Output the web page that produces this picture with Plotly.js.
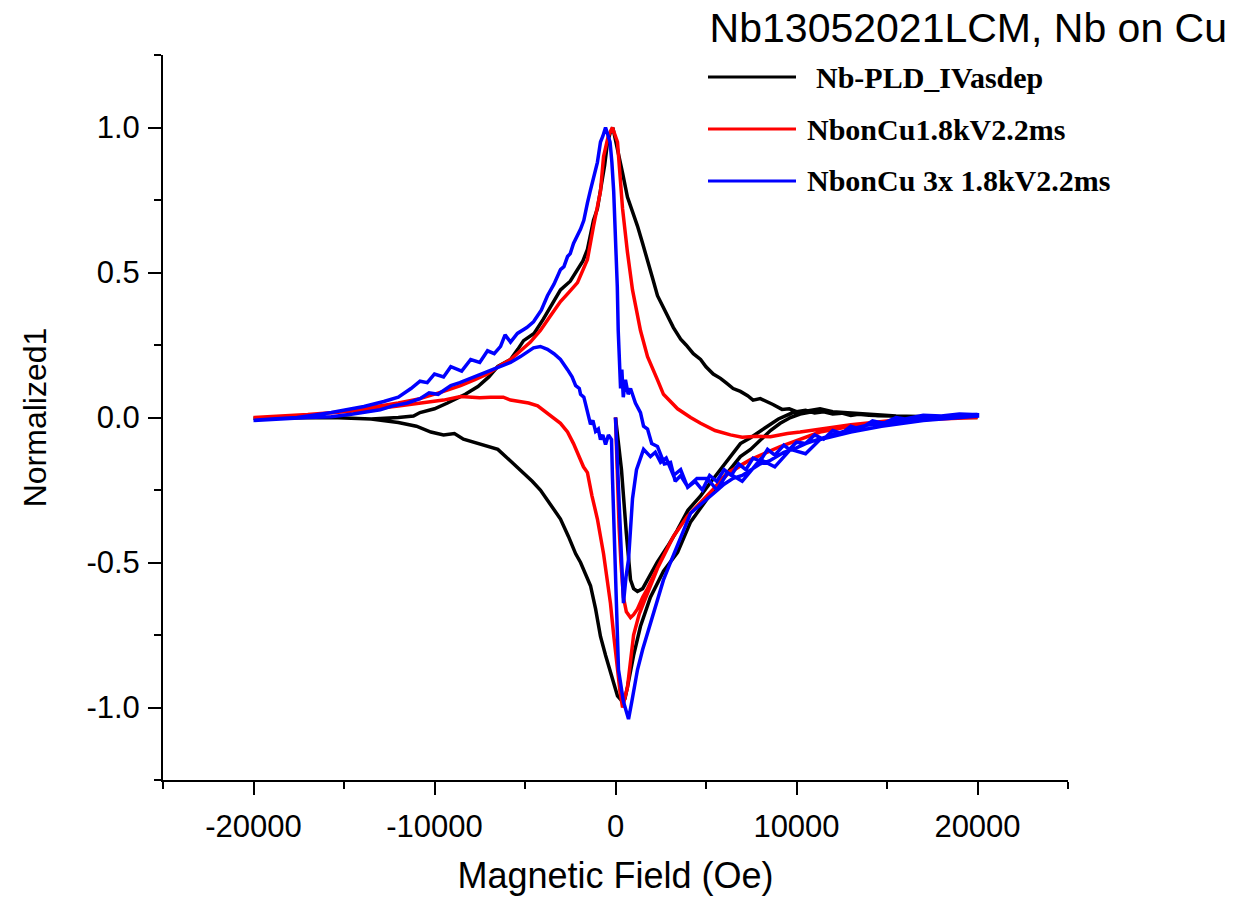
<!DOCTYPE html>
<html>
<head>
<meta charset="utf-8">
<script src="https://cdn.plot.ly/plotly-3.0.1.min.js"></script>
<style>
  html, body { margin: 0; padding: 0; background: #fff; }
  #chart { width: 1235px; height: 897px; }
</style>
</head>
<body>
<div id="chart"></div>
<script>
// ---------- DATA (Magnetic Field in Oe, normalized moment) ----------
const seriesNames = [" Nb-PLD_IVasdep", "NbonCu1.8kV2.2ms", "NbonCu 3x 1.8kV2.2ms"];
const seriesColors = ["#000000", "#ff0000", "#0000ff"];

// Black: Nb-PLD_IVasdep
const blackVirginH = [0, 120, 330, 600, 830, 1000, 1215, 1500, 1770, 2300, 2870, 3400, 4000, 4700, 5300, 5800, 6300, 6900, 7460, 8000, 8400, 9000, 9800, 10500, 11300, 12000, 13000, 14000, 15500, 17500, 20000];
const blackVirginM = [0, -0.07, -0.18, -0.40, -0.56, -0.59, -0.60, -0.59, -0.56, -0.50, -0.445, -0.39, -0.32, -0.27, -0.22, -0.18, -0.14, -0.09, -0.07, -0.045, -0.03, -0.005, 0.017, 0.022, 0.03, 0.02, 0.015, 0.008, 0.004, 0.002, 0.0];
const blackDownH = [20000, 18000, 16000, 14500, 13500, 13000, 12500, 12000, 11500, 11000, 10500, 10000, 9600, 9200, 8700, 8300, 8000, 7600, 7300, 6900, 6500, 6100, 5800, 5400, 5000, 4700, 4300, 3900, 3600, 3200, 2870, 2600, 2320, 2050, 1770, 1500, 1215, 940, 660, 400, 110, -50, -150, -300, -440, -600, -830, -1000, -1215, -1400, -1550, -1800, -2100, -2500, -3040, -3500, -3980, -4500, -5080, -5400, -5800, -6500, -7000, -7600, -8300, -9280, -10000, -10800, -11160, -12000, -13500, -15700, -18000, -20000];
const blackDownM = [0.0, 0.002, 0.004, 0.006, 0.012, 0.007, 0.015, 0.012, 0.02, 0.016, 0.025, 0.02, 0.03, 0.028, 0.045, 0.055, 0.065, 0.06, 0.075, 0.09, 0.10, 0.12, 0.135, 0.15, 0.175, 0.20, 0.22, 0.25, 0.27, 0.31, 0.35, 0.38, 0.42, 0.48, 0.545, 0.60, 0.66, 0.71, 0.76, 0.84, 0.92, 0.97, 1.0, 0.98, 0.95, 0.87, 0.78, 0.72, 0.68, 0.62, 0.58, 0.54, 0.51, 0.47, 0.44, 0.39, 0.34, 0.29, 0.265, 0.235, 0.20, 0.176, 0.14, 0.107, 0.08, 0.05, 0.03, 0.017, 0.005, 0.0, -0.005, 0.0, -0.002, -0.003];
const blackUpH = [-20000, -17500, -15700, -13500, -12000, -11000, -10200, -9500, -8900, -8400, -7600, -7000, -6500, -5800, -5080, -4600, -4150, -3600, -3040, -2600, -2200, -1930, -1380, -1100, -830, -550, -280, 110, 390, 520, 660, 1000, 1380, 1930, 2650, 3430, 4150, 4700, 5300, 5800, 6300, 6900, 7460, 8000, 8560, 9100, 9670, 10200, 11300, 12000, 13000, 14000, 15500, 17500, 20000];
const blackUpM = [-0.003, 0.0, 0.0, -0.005, -0.017, -0.03, -0.05, -0.06, -0.055, -0.075, -0.09, -0.10, -0.11, -0.15, -0.19, -0.22, -0.25, -0.30, -0.35, -0.41, -0.47, -0.50, -0.58, -0.66, -0.755, -0.82, -0.88, -0.96, -0.98, -0.97, -0.93, -0.82, -0.72, -0.62, -0.53, -0.465, -0.36, -0.31, -0.26, -0.22, -0.18, -0.135, -0.11, -0.08, -0.045, -0.02, 0.0, 0.012, 0.025, 0.02, 0.015, 0.01, 0.005, 0.002, 0.0];

// Red: NbonCu1.8kV2.2ms
const redVirginH = [0, 100, 200, 300, 440, 600, 830, 1000, 1215, 1500, 1770, 2300, 3200, 3980, 5080, 6200, 7460, 9100, 11300, 13000, 15000, 17500, 20000];
const redVirginM = [0, -0.2, -0.38, -0.5, -0.62, -0.67, -0.69, -0.68, -0.66, -0.62, -0.59, -0.52, -0.41, -0.34, -0.27, -0.195, -0.145, -0.10, -0.05, -0.03, -0.015, -0.005, 0.0];
const redDownH = [20000, 17500, 15000, 13000, 11500, 10200, 9500, 8560, 7800, 7000, 6350, 5500, 4700, 4150, 3430, 2650, 2320, 1770, 1380, 940, 660, 390, 110, -170, -400, -660, -830, -1000, -1215, -1550, -2100, -2600, -3040, -3600, -4150, -4700, -5250, -5800, -6350, -7070, -7800, -8560, -9500, -10800, -12000, -13500, -15000, -17000, -20000];
const redDownM = [0.0, -0.005, -0.012, -0.025, -0.04, -0.05, -0.055, -0.066, -0.065, -0.068, -0.06, -0.045, -0.02, 0.0, 0.03, 0.08, 0.13, 0.21, 0.30, 0.44, 0.57, 0.72, 0.95, 1.0, 0.97, 0.90, 0.78, 0.72, 0.66, 0.545, 0.465, 0.43, 0.40, 0.35, 0.30, 0.26, 0.23, 0.20, 0.18, 0.15, 0.13, 0.11, 0.09, 0.065, 0.05, 0.035, 0.02, 0.01, 0.0];
const redUpH = [-20000, -18000, -16000, -14000, -12000, -10800, -9500, -8560, -7500, -6900, -6200, -5800, -5250, -4800, -4300, -3700, -3040, -2650, -2320, -1770, -1550, -1300, -1000, -660, -450, -280, -100, 110, 260, 390, 520, 660, 1000, 1300, 1550, 2320, 3200, 3980, 5080, 6200, 7460, 9100, 11300, 13000, 15000, 17500, 20000];
const redUpM = [0.0, 0.005, 0.015, 0.025, 0.04, 0.05, 0.06, 0.072, 0.068, 0.07, 0.07, 0.06, 0.055, 0.05, 0.04, 0.01, -0.02, -0.05, -0.09, -0.17, -0.19, -0.27, -0.35, -0.47, -0.56, -0.64, -0.75, -0.87, -0.95, -1.0, -0.97, -0.93, -0.75, -0.68, -0.64, -0.52, -0.41, -0.34, -0.27, -0.19, -0.145, -0.10, -0.05, -0.03, -0.015, -0.005, 0.0];

// Blue: NbonCu 3x 1.8kV2.2ms
const blueVirginH = [0, 220, 440, 580, 720, 940, 1160, 1550, 1930, 2200, 2490, 2800, 3200, 3600, 3980, 4500, 5080, 5600, 6200, 7000, 8000, 8800, 9670, 10500, 11300, 13000, 14700, 17000, 20000];
const blueVirginM = [0, -0.35, -0.64, -0.55, -0.49, -0.28, -0.18, -0.11, -0.135, -0.12, -0.155, -0.14, -0.20, -0.18, -0.24, -0.21, -0.21, -0.25, -0.19, -0.22, -0.145, -0.17, -0.11, -0.125, -0.076, -0.05, -0.03, -0.01, 0.005];
const blueDownH = [20000, 19000, 18000, 17000, 16000, 15500, 14800, 14200, 13500, 13000, 12500, 12000, 11500, 11000, 10500, 10000, 9600, 9300, 8800, 8400, 8000, 7600, 7200, 6800, 6400, 6000, 5600, 5200, 4800, 4400, 4000, 3600, 3300, 3040, 2700, 2320, 2000, 1770, 1550, 1380, 1100, 830, 700, 550, 430, 350, 280, 200, 150, 100, 50, 0, -100, -200, -300, -400, -550, -700, -830, -1000, -1215, -1400, -1550, -1750, -1930, -2100, -2320, -2500, -2650, -2850, -3040, -3400, -3760, -4100, -4530, -4900, -5420, -5800, -6100, -6350, -6700, -7070, -7500, -8000, -8500, -9100, -9500, -10000, -10400, -10800, -11300, -12000, -12800, -13900, -15000, -15700, -16700, -17600, -19000, -20000];
const blueDownM = [0.01, 0.012, 0.005, 0.008, -0.005, 0.0, -0.02, -0.012, -0.04, -0.03, -0.055, -0.045, -0.075, -0.06, -0.09, -0.085, -0.11, -0.095, -0.13, -0.11, -0.15, -0.14, -0.18, -0.16, -0.20, -0.18, -0.22, -0.20, -0.25, -0.22, -0.24, -0.20, -0.22, -0.155, -0.16, -0.10, -0.09, -0.04, -0.03, 0.017, 0.05, 0.10, 0.08, 0.13, 0.07, 0.165, 0.10, 0.20, 0.30, 0.45, 0.55, 0.62, 0.78, 0.88, 0.95, 0.97, 1.0, 0.97, 0.95, 0.88, 0.83, 0.78, 0.74, 0.68, 0.65, 0.63, 0.60, 0.565, 0.555, 0.52, 0.51, 0.46, 0.42, 0.37, 0.33, 0.31, 0.29, 0.26, 0.285, 0.245, 0.22, 0.23, 0.19, 0.20, 0.16, 0.175, 0.14, 0.15, 0.12, 0.125, 0.10, 0.07, 0.055, 0.038, 0.025, 0.017, 0.008, 0.0, -0.005, -0.007];
const blueUpH = [-20000, -18500, -17000, -15700, -14500, -13500, -13000, -12300, -11500, -10800, -10300, -9800, -9100, -8600, -8000, -7460, -7000, -6350, -5800, -5250, -4800, -4530, -4150, -3760, -3400, -3040, -2650, -2400, -2200, -2000, -1930, -1750, -1650, -1550, -1450, -1380, -1250, -1100, -950, -830, -700, -550, -390, -220, -166, 0, 166, 440, 720, 900, 1215, 1500, 1930, 2300, 2650, 3100, 3600, 4150, 4700, 5100, 5640, 6000, 6500, 7000, 7460, 8000, 8500, 9300, 10000, 10500, 11160, 12000, 13000, 14000, 14800, 16000, 17500, 19000, 20000];
const blueUpM = [-0.01, -0.005, 0.0, 0.003, 0.012, 0.02, 0.027, 0.04, 0.05, 0.065, 0.085, 0.08, 0.11, 0.12, 0.135, 0.15, 0.16, 0.176, 0.19, 0.21, 0.23, 0.24, 0.245, 0.235, 0.22, 0.20, 0.165, 0.14, 0.11, 0.10, 0.08, 0.07, 0.045, 0.02, 0.0, -0.024, -0.01, -0.048, -0.04, -0.076, -0.06, -0.093, -0.06, -0.076, -0.21, -0.52, -0.87, -0.98, -1.04, -0.98, -0.87, -0.80, -0.71, -0.63, -0.56, -0.49, -0.41, -0.33, -0.30, -0.28, -0.25, -0.23, -0.21, -0.20, -0.18, -0.16, -0.15, -0.12, -0.105, -0.09, -0.076, -0.06, -0.04, -0.025, -0.017, -0.008, 0.003, 0.008, 0.01];

// Axis ticks
const xTickVals = [-20000, -10000, 0, 10000, 20000];
const xTickText = ["-20000", "-10000", "0", "10000", "20000"];
const xMinorVals = [-25000, -15000, -5000, 5000, 15000, 25000];
const yTickVals = [-1.0, -0.5, 0.0, 0.5, 1.0];
const yTickText = ["-1.0", "-0.5", "0.0", "0.5", "1.0"];
const yMinorVals = [-1.25, -0.75, -0.25, 0.25, 0.75, 1.25];

const titleText = "Nb13052021LCM, Nb on Cu";
const xTitle = "Magnetic Field (Oe)";
const yTitle = "Normalized1";

// ---------- BUILD ----------
function loop(vH, vM, dH, dM, uH, uM) {
  return { x: vH.concat(dH, uH), y: vM.concat(dM, uM) };
}
const loops = [
  loop(blackVirginH, blackVirginM, blackDownH, blackDownM, blackUpH, blackUpM),
  loop(redVirginH, redVirginM, redDownH, redDownM, redUpH, redUpM),
  loop(blueVirginH, blueVirginM, blueDownH, blueDownM, blueUpH, blueUpM)
];

const traces = loops.map((d, i) => ({
  x: d.x, y: d.y, type: "scatter", mode: "lines",
  name: seriesNames[i],
  line: { color: seriesColors[i], width: 3.5 },
  showlegend: false, hoverinfo: "skip"
}));

// plot area in pixels: x 163..1068, y 55..780
const L = 163, R = 1068, T = 55, B = 780;
const px = v => (v - L) / (R - L);
const py = v => (B - v) / (B - T);

const legendRows = [77, 129, 181];
const legendTextX = [814, 805, 805];
const shapes = [];
const annotations = [];
legendRows.forEach((ry, i) => {
  shapes.push({ type: "line", xref: "paper", yref: "paper",
    x0: px(708), x1: px(796), y0: py(ry), y1: py(ry),
    line: { color: seriesColors[i], width: 3 } });
  annotations.push({ xref: "paper", yref: "paper", x: px(legendTextX[i]), y: py(ry),
    xanchor: "left", yanchor: "middle", showarrow: false,
    text: "<b>" + seriesNames[i].trim() + "</b>",
    font: { family: "Liberation Serif, Times New Roman, serif", size: 30, color: "#000" } });
});

const tickFont = { family: "Liberation Sans, Arial, sans-serif", size: 31, color: "#000" };

const layout = {
  width: 1235, height: 897,
  margin: { l: L, r: 1235 - R, t: T, b: 897 - B, pad: 0 },
  paper_bgcolor: "#fff", plot_bgcolor: "#fff",
  showlegend: false,
  title: { text: titleText, xref: "container", yref: "container",
    x: 1227 / 1235, xanchor: "right", y: 1 - 28 / 897, yanchor: "middle",
    font: { family: "Liberation Sans, Arial, sans-serif", size: 41, color: "#000" } },
  xaxis: {
    range: [-25000, 25000], showgrid: false, zeroline: false,
    showline: true, linecolor: "#000", linewidth: 2,
    tickmode: "array", tickvals: xTickVals, ticktext: xTickText,
    ticks: "outside", ticklen: 13, tickwidth: 2, tickcolor: "#000",
    tickfont: tickFont, ticklabelstandoff: 5,
    minor: { tickmode: "array", tickvals: xMinorVals, ticks: "outside", ticklen: 7, tickwidth: 2, tickcolor: "#000", showgrid: false },
    title: { text: xTitle, standoff: 20, font: { family: "Liberation Sans, Arial, sans-serif", size: 36, color: "#000" } }
  },
  yaxis: {
    range: [-1.25, 1.25], showgrid: false, zeroline: false,
    showline: true, linecolor: "#000", linewidth: 2,
    tickmode: "array", tickvals: yTickVals, ticktext: yTickText,
    ticks: "outside", ticklen: 13, tickwidth: 2, tickcolor: "#000",
    tickfont: tickFont, ticklabelstandoff: 2,
    minor: { tickmode: "array", tickvals: yMinorVals, ticks: "outside", ticklen: 7, tickwidth: 2, tickcolor: "#000", showgrid: false },
    title: { text: yTitle, standoff: 30, font: { family: "Liberation Sans, Arial, sans-serif", size: 32, color: "#000" } }
  },
  shapes: shapes,
  annotations: annotations
};

Plotly.newPlot("chart", traces, layout, { staticPlot: true, displayModeBar: false });
</script>
</body>
</html>
